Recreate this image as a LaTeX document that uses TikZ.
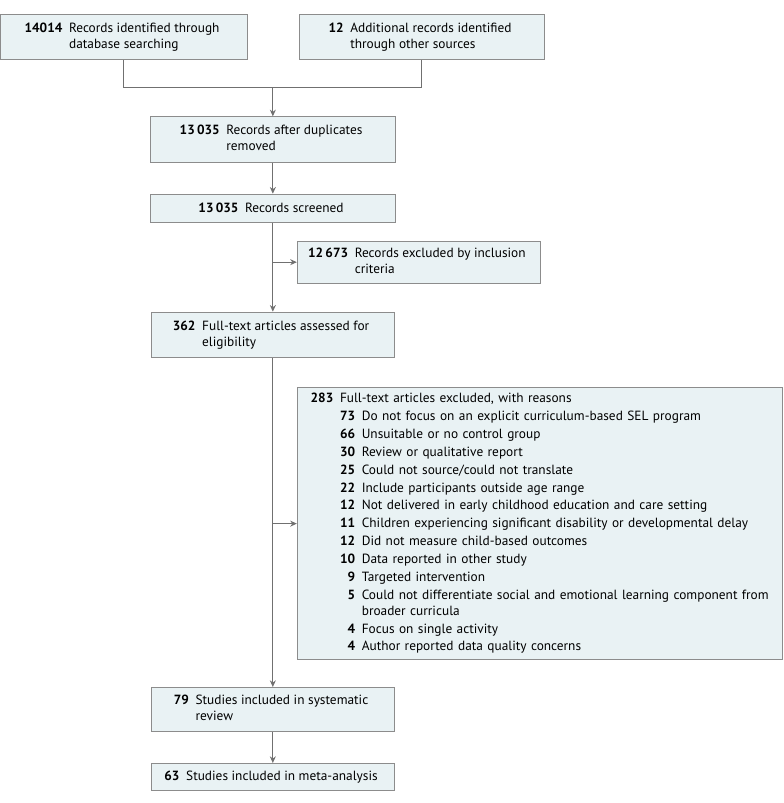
\documentclass[tikz,border=0pt]{standalone}
\usepackage{fontspec}
\setmainfont{PT Sans}
\usepackage{tikz}
\usetikzlibrary{positioning,calc,arrows.meta}
\usepackage{xcolor}
\definecolor{boxfill}{RGB}{233,242,244}
\definecolor{boxline}{RGB}{140,140,140}
\definecolor{flowgray}{RGB}{112,112,112}

\begin{document}
\begin{tikzpicture}[
    x=0.75pt, y=-0.75pt,
    node distance=23.25pt and 18pt,
    record/.style={rectangle, draw=boxline, fill=boxfill, minimum width=184pt,
                   minimum height=34pt, inner sep=3pt, align=center,
                   line width=0.75pt, font=\fontsize{10}{12}\selectfont},
    recordline/.style={record, minimum height=21pt},
    reasons/.style={record, minimum height=203pt, text width=344pt,
                    inner xsep=10pt, align=left},
    arrow/.style={-{Stealth[length=5pt, width=4.5pt]}, line width=0.75pt, draw=flowgray},
    link/.style={line width=0.75pt, draw=flowgray}
]
\useasboundingbox (0,0) rectangle (783,803);

\node[record, anchor=north west, minimum width=185pt] (dbRec) at (0,14) {
    \begin{tabular}{@{}r@{\hspace{5pt}}l@{}}
    \textbf{14014} & Records identified through\\
                   & database searching
    \end{tabular}
};
\node[record, right=38.25pt of dbRec] (otherRec) {
    \begin{tabular}{@{}r@{\hspace{5pt}}l@{}}
    \textbf{12} & Additional records identified\\
                & through other sources
    \end{tabular}
};
\coordinate (join) at ($(dbRec.south)!0.5!(otherRec.south) + (0,27)$);

\node[record, below=21.75pt of join] (dupRec) {
    \begin{tabular}{@{}r@{\hspace{5pt}}l@{}}
    \textbf{13\,035} & Records after duplicates\\
                     & removed
    \end{tabular}
};
\node[recordline, below=of dupRec] (screenRec) {
    \textbf{13\,035}\hspace{5pt}Records screened
};
\node[record, below right=13.5pt and 18pt of screenRec.south, minimum width=182pt,
      minimum height=31.5pt] (exclRec) {
    \begin{tabular}{@{}r@{\hspace{5pt}}l@{}}
    \textbf{12\,673} & Records excluded by inclusion\\
                     & criteria
    \end{tabular}
};
\node[record, below=66.75pt of screenRec, minimum width=182pt] (fullRec) {
    \begin{tabular}{@{}r@{\hspace{5pt}}l@{}}
    \textbf{362} & Full-text articles assessed for\\
                 & eligibility
    \end{tabular}
};
\node[reasons, below right=21.75pt and 18pt of fullRec.south] (reasonRec) {
    \begin{tabular}{@{}r@{\hspace{5pt}}r@{\hspace{5pt}}l@{}}
    \textbf{283} & \multicolumn{2}{@{}l@{}}{Full-text articles excluded, with reasons}\\[1.4pt]
    & \textbf{73} & Do not focus on an explicit curriculum-based SEL program\\[1.4pt]
    & \textbf{66} & Unsuitable or no control group\\[1.4pt]
    & \textbf{30} & Review or qualitative report\\[1.4pt]
    & \textbf{25} & Could not source/could not translate\\[1.4pt]
    & \textbf{22} & Include participants outside age range\\[1.4pt]
    & \textbf{12} & Not delivered in early childhood education and care setting\\[1.4pt]
    & \textbf{11} & Children experiencing significant disability or developmental delay\\[1.4pt]
    & \textbf{12} & Did not measure child-based outcomes\\[1.4pt]
    & \textbf{10} & Data reported in other study\\[1.4pt]
    & \textbf{9} & Targeted intervention\\[1.4pt]
    & \textbf{5} & Could not differentiate social and emotional learning component from\\
    & & broader curricula\\[1.4pt]
    & \textbf{4} & Focus on single activity\\[1.4pt]
    & \textbf{4} & Author reported data quality concerns
    \end{tabular}
};
\node[record, below=246.75pt of fullRec, minimum width=182pt, minimum height=33pt] (reviewRec) {
    \begin{tabular}{@{}r@{\hspace{5pt}}l@{}}
    \textbf{79} & Studies included in systematic\\
                & review
    \end{tabular}
};
\node[recordline, below=of reviewRec, minimum width=182pt, minimum height=20.25pt] (metaRec) {
    \textbf{63}\hspace{5pt}Studies included in meta-analysis
};

\draw[link] (dbRec.south) |- (join) -| (otherRec.south);
\draw[arrow] (join) -- (dupRec);
\draw[arrow] (dupRec) -- (screenRec);
\draw[arrow] (screenRec) -- (fullRec);
\draw[arrow] (screenRec.south |- exclRec.west) -- (exclRec.west);
\draw[arrow] (fullRec) -- (reviewRec);
\draw[arrow] (fullRec.south |- reasonRec.west) -- (reasonRec.west);
\draw[arrow] (reviewRec) -- (metaRec);

\end{tikzpicture}
\end{document}
